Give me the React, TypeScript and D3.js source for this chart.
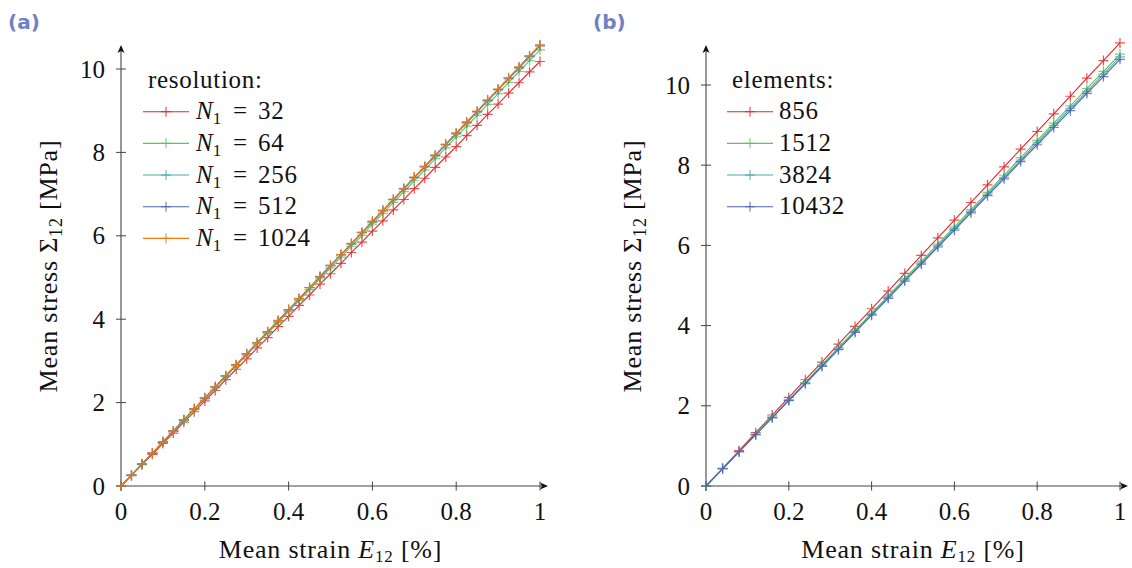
import React from "react";
import * as d3 from "d3";

// ---------- data ----------
const strainA = [0, 0.025, 0.05, 0.075, 0.1, 0.125, 0.15, 0.175, 0.2, 0.225, 0.25, 0.275, 0.3, 0.325, 0.35, 0.375, 0.4, 0.425, 0.45, 0.475, 0.5, 0.525, 0.55, 0.575, 0.6, 0.625, 0.65, 0.675, 0.7, 0.725, 0.75, 0.775, 0.8, 0.825, 0.85, 0.875, 0.9, 0.925, 0.95, 0.975, 1.0];
const n32 = [0, 0.25, 0.51, 0.76, 1.02, 1.27, 1.53, 1.78, 2.04, 2.29, 2.55, 2.80, 3.05, 3.31, 3.56, 3.82, 4.07, 4.33, 4.58, 4.84, 5.09, 5.34, 5.60, 5.85, 6.11, 6.36, 6.62, 6.87, 7.13, 7.38, 7.64, 7.89, 8.14, 8.40, 8.65, 8.91, 9.16, 9.42, 9.67, 9.93, 10.18];
const n64 = [0, 0.26, 0.52, 0.78, 1.05, 1.31, 1.57, 1.83, 2.09, 2.35, 2.62, 2.88, 3.14, 3.40, 3.66, 3.92, 4.18, 4.45, 4.71, 4.97, 5.23, 5.49, 5.75, 6.01, 6.28, 6.54, 6.80, 7.06, 7.32, 7.58, 7.85, 8.11, 8.37, 8.63, 8.89, 9.15, 9.41, 9.68, 9.94, 10.20, 10.46];
const n256 = [0, 0.26, 0.53, 0.79, 1.06, 1.32, 1.58, 1.85, 2.11, 2.37, 2.64, 2.90, 3.17, 3.43, 3.69, 3.96, 4.22, 4.48, 4.75, 5.01, 5.28, 5.54, 5.80, 6.07, 6.33, 6.59, 6.86, 7.12, 7.39, 7.65, 7.91, 8.18, 8.44, 8.70, 8.97, 9.23, 9.50, 9.76, 10.02, 10.29, 10.55];
const n512 = [0, 0.26, 0.53, 0.79, 1.06, 1.32, 1.59, 1.85, 2.11, 2.38, 2.64, 2.91, 3.17, 3.44, 3.70, 3.96, 4.23, 4.49, 4.76, 5.02, 5.29, 5.55, 5.81, 6.08, 6.34, 6.61, 6.87, 7.13, 7.40, 7.66, 7.93, 8.19, 8.46, 8.72, 8.98, 9.25, 9.51, 9.78, 10.04, 10.31, 10.57];
const n1024 = [0, 0.26, 0.53, 0.79, 1.06, 1.32, 1.59, 1.85, 2.12, 2.38, 2.65, 2.91, 3.17, 3.44, 3.70, 3.97, 4.23, 4.50, 4.76, 5.03, 5.29, 5.55, 5.82, 6.08, 6.35, 6.61, 6.88, 7.14, 7.41, 7.67, 7.94, 8.20, 8.46, 8.73, 8.99, 9.26, 9.52, 9.79, 10.05, 10.32, 10.58];
const resolutionLabels = ["32", "64", "256", "512", "1024"];

const strainB = [0, 0.04, 0.08, 0.12, 0.16, 0.2, 0.24, 0.28, 0.32, 0.36, 0.4, 0.44, 0.48, 0.52, 0.56, 0.6, 0.64, 0.68, 0.72, 0.76, 0.8, 0.84, 0.88, 0.92, 0.96, 1.0];
const e856 = [0, 0.44, 0.88, 1.33, 1.77, 2.21, 2.65, 3.09, 3.54, 3.98, 4.42, 4.86, 5.30, 5.75, 6.19, 6.63, 7.07, 7.51, 7.96, 8.40, 8.84, 9.28, 9.72, 10.17, 10.61, 11.05];
const e1512 = [0, 0.43, 0.86, 1.29, 1.72, 2.15, 2.58, 3.02, 3.45, 3.88, 4.31, 4.74, 5.17, 5.60, 6.03, 6.46, 6.89, 7.32, 7.75, 8.19, 8.62, 9.05, 9.48, 9.91, 10.34, 10.77];
const e3824 = [0, 0.43, 0.86, 1.28, 1.71, 2.14, 2.57, 3.00, 3.42, 3.85, 4.28, 4.71, 5.14, 5.56, 5.99, 6.42, 6.85, 7.28, 7.70, 8.13, 8.56, 8.99, 9.42, 9.84, 10.27, 10.70];
const e10432 = [0, 0.43, 0.85, 1.28, 1.70, 2.13, 2.55, 2.98, 3.40, 3.83, 4.26, 4.68, 5.11, 5.53, 5.96, 6.38, 6.81, 7.24, 7.66, 8.09, 8.51, 8.94, 9.36, 9.79, 10.21, 10.64];
const elementLabels = ["856", "1512", "3824", "10432"];

const xTicks = [0, 0.2, 0.4, 0.6, 0.8, 1];
const xTickLabels = ["0", "0.2", "0.4", "0.6", "0.8", "1"];
const yTicks = [0, 2, 4, 6, 8, 10];
const yTickLabels = ["0", "2", "4", "6", "8", "10"];

const colorsA = ["#e3262b", "#5cc45c", "#4aabab", "#5262b0", "#f07a10"];
const colorsB = ["#e3262b", "#5cc45c", "#4aabab", "#5262b0"];

const SERIF = "'Liberation Serif', 'DejaVu Serif', serif";
const AXIS = "#444";

type Series = { label: string; values: number[]; color: string };

function Panel(props: {
  tag: string;
  tagX: number;
  x0: number; x1: number; xArrow: number;
  y0: number; y10: number; yArrow: number;
  strain: number[];
  series: Series[];
  legendTitle: string;
  legendX: number;
  legendY: number;
  math: boolean;
  yLabelX: number;
}) {
  const { x0, x1, xArrow, y0, y10, yArrow } = props;
  const x = d3.scaleLinear().domain([0, 1]).range([x0, x1]);
  const y = d3.scaleLinear().domain([0, 10]).range([y0, y10]);
  const line = d3.line<number>().x((_, i) => x(props.strain[i])).y((v) => y(v));
  const mk = 5;
  const cx = (x0 + x1) / 2;
  const rowH = 31.67;
  return (
    <g>
      <text x={props.tagX} y={29} fontFamily="'DejaVu Sans', sans-serif" fontWeight="bold" fontSize={20} fill="#6f80c4">{props.tag}</text>
      {/* axes */}
      <line x1={x0} y1={y0} x2={xArrow - 2} y2={y0} stroke={AXIS} strokeWidth={1.1} />
      <line x1={x0} y1={y0} x2={x0} y2={yArrow + 2} stroke={AXIS} strokeWidth={1.1} />
      <path d={`M${xArrow},${y0} L${xArrow - 8},${y0 - 3.5} L${xArrow - 6},${y0} L${xArrow - 8},${y0 + 3.5} Z`} fill="#111" />
      <path d={`M${x0},${yArrow} L${x0 - 3.5},${yArrow + 8} L${x0},${yArrow + 6} L${x0 + 3.5},${yArrow + 8} Z`} fill="#111" />
      {xTicks.map((t, i) => (
        <g key={"xt" + i}>
          <line x1={x(t)} x2={x(t)} y1={y0 - 4.5} y2={y0 + 4.5} stroke={AXIS} strokeWidth={1} />
          <text x={x(t)} y={y0 + 34} textAnchor="middle" fontFamily={SERIF} fontSize={25} fill="#111">{xTickLabels[i]}</text>
        </g>
      ))}
      {yTicks.map((t, i) => (
        <g key={"yt" + i}>
          <line x1={x0 - 5} x2={x0 + 5} y1={y(t)} y2={y(t)} stroke={AXIS} strokeWidth={1} />
          <text x={x0 - 16} y={y(t) + 8.5} textAnchor="end" fontFamily={SERIF} fontSize={25} fill="#111">{yTickLabels[i]}</text>
        </g>
      ))}
      {/* axis labels */}
      <text x={cx} y={558} textAnchor="middle" fontFamily={SERIF} fontSize={26} letterSpacing={0.8} fill="#111">
        Mean strain <tspan fontStyle="italic">E</tspan><tspan fontSize={17} dy={4}>12</tspan><tspan dy={-4}> [%]</tspan>
      </text>
      <text transform={`translate(${props.yLabelX},${266}) rotate(-90)`} textAnchor="middle" fontFamily={SERIF} fontSize={26} letterSpacing={0.8} fill="#111">
        Mean stress Σ<tspan fontSize={18} dy={5}>12</tspan><tspan dy={-5}> [MPa]</tspan>
      </text>
      {/* series */}
      {props.series.map((s, si) => (
        <g key={"s" + si}>
          <path d={line(s.values) || ""} fill="none" stroke={s.color} strokeWidth={1.1} />
          {s.values.map((v, i) => (
            <path key={i} d={`M${x(props.strain[i]) - mk},${y(v)}h${2 * mk}M${x(props.strain[i])},${y(v) - mk}v${2 * mk}`} stroke={s.color} strokeWidth={1.2} strokeOpacity={0.8} />
          ))}
        </g>
      ))}
      {/* legend */}
      <text x={props.legendX + 5} y={props.legendY} fontFamily={SERIF} fontSize={25} letterSpacing={0.7} fill="#111">{props.legendTitle}</text>
      {props.series.map((s, si) => {
        const ly = props.legendY + 23.7 + si * rowH;
        const lx = props.legendX;
        return (
          <g key={"l" + si}>
            <line x1={lx} x2={lx + 46} y1={ly} y2={ly} stroke={s.color} strokeWidth={1.1} />
            <path d={`M${lx + 23 - mk},${ly}h${2 * mk}M${lx + 23},${ly - mk}v${2 * mk}`} stroke={s.color} strokeWidth={1.2} strokeOpacity={0.8} />
            {props.math ? (
              <text y={ly + 7.5} fontFamily={SERIF} fontSize={25} fill="#111">
                <tspan x={lx + 53} fontStyle="italic">N</tspan>
                <tspan fontSize={17} dy={5}>1</tspan>
                <tspan x={lx + 90} dy={-5}>=</tspan>
                <tspan x={lx + 115} letterSpacing={0.7}>{s.label}</tspan>
              </text>
            ) : (
              <text x={lx + 52} y={ly + 7.5} fontFamily={SERIF} fontSize={25} letterSpacing={0.7} fill="#111">{s.label}</text>
            )}
          </g>
        );
      })}
    </g>
  );
}

export default function App() {
  const seriesA: Series[] = [n32, n64, n256, n512, n1024].map((v, i) => ({ label: resolutionLabels[i], values: v, color: colorsA[i] }));
  const seriesB: Series[] = [e856, e1512, e3824, e10432].map((v, i) => ({ label: elementLabels[i], values: v, color: colorsB[i] }));
  return (
    <div style={{ position: "fixed", left: 0, top: 0 }}>
      <svg width={1132} height={568} style={{ display: "block", background: "#fff" }}>
        <Panel tag="(a)" tagX={8} x0={121} x1={540} xArrow={548} y0={486} y10={69} yArrow={45}
          strain={strainA} series={seriesA} legendTitle="resolution:" legendX={143} legendY={88} math={true} yLabelX={57} />
        <Panel tag="(b)" tagX={593} x0={706} x1={1120} xArrow={1128} y0={486} y10={85} yArrow={45}
          strain={strainB} series={seriesB} legendTitle="elements:" legendX={727} legendY={88} math={false} yLabelX={641} />
      </svg>
    </div>
  );
}
